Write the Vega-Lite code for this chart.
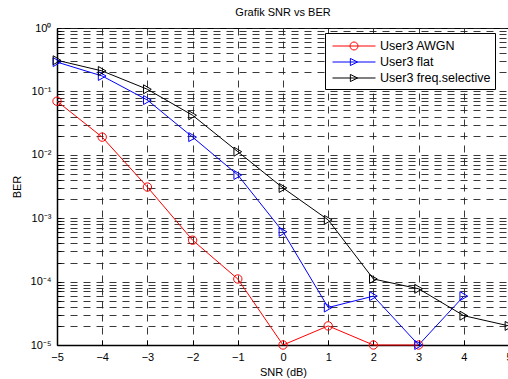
{
  "$schema": "https://vega.github.io/schema/vega-lite/v6.json",
  "width": 452,
  "height": 317,
  "autosize": {"type": "none"},
  "padding": {"left": 57, "top": 28, "right": 0, "bottom": 34},
  "background": "white",
  "title": {"text": "Grafik SNR vs BER", "fontSize": 11, "fontWeight": "normal", "font": "Liberation Sans", "color": "#000", "offset": 4},
  "config": {
    "font": "Liberation Sans",
    "view": {"stroke": "#000", "strokeWidth": 1},
    "axis": {
      "domainColor": "#000",
      "domainWidth": 1.5,
      "labelColor": "#000",
      "titleColor": "#000",
      "labelFont": "Liberation Sans",
      "titleFont": "Liberation Sans",
      "labelFontSize": 11,
      "titleFontSize": 11,
      "titleFontWeight": "normal",
      "labelFlush": false,
      "labelOverlap": false,
      "gridColor": "#222",
      "gridDash": [7, 6],
      "gridWidth": 0.9,
      "gridOpacity": 1,
      "ticks": true,
      "tickColor": "#000",
      "tickWidth": 1
    }
  },
  "data": {"values": [
    {"snr": -5, "ber": 0.07, "series": "User3 AWGN"},
    {"snr": -4, "ber": 0.019, "series": "User3 AWGN"},
    {"snr": -3, "ber": 0.0031, "series": "User3 AWGN"},
    {"snr": -2, "ber": 0.00045, "series": "User3 AWGN"},
    {"snr": -1, "ber": 0.00011, "series": "User3 AWGN"},
    {"snr": 0, "ber": 0.00001, "series": "User3 AWGN"},
    {"snr": 1, "ber": 0.00002, "series": "User3 AWGN"},
    {"snr": 2, "ber": 0.00001, "series": "User3 AWGN"},
    {"snr": 3, "ber": 0.00001, "series": "User3 AWGN"},
    {"snr": -5, "ber": 0.29, "series": "User3 flat"},
    {"snr": -4, "ber": 0.175, "series": "User3 flat"},
    {"snr": -3, "ber": 0.073, "series": "User3 flat"},
    {"snr": -2, "ber": 0.019, "series": "User3 flat"},
    {"snr": -1, "ber": 0.0048, "series": "User3 flat"},
    {"snr": 0, "ber": 0.00061, "series": "User3 flat"},
    {"snr": 1, "ber": 0.000039, "series": "User3 flat"},
    {"snr": 2, "ber": 0.000059, "series": "User3 flat"},
    {"snr": 3, "ber": 0.00001, "series": "User3 flat"},
    {"snr": 4, "ber": 0.000059, "series": "User3 flat"},
    {"snr": -5, "ber": 0.31, "series": "User3 freq.selective"},
    {"snr": -4, "ber": 0.21, "series": "User3 freq.selective"},
    {"snr": -3, "ber": 0.108, "series": "User3 freq.selective"},
    {"snr": -2, "ber": 0.042, "series": "User3 freq.selective"},
    {"snr": -1, "ber": 0.0112, "series": "User3 freq.selective"},
    {"snr": 0, "ber": 0.003, "series": "User3 freq.selective"},
    {"snr": 1, "ber": 0.00094, "series": "User3 freq.selective"},
    {"snr": 2, "ber": 0.00011, "series": "User3 freq.selective"},
    {"snr": 3, "ber": 0.000077, "series": "User3 freq.selective"},
    {"snr": 4, "ber": 0.000029, "series": "User3 freq.selective"},
    {"snr": 5, "ber": 0.00002, "series": "User3 freq.selective"}
  ]},
  "encoding": {
    "x": {
      "field": "snr", "type": "quantitative",
      "scale": {"domain": [-5, 5], "nice": false, "zero": false},
      "axis": {"values": [-5, -4, -3, -2, -1, 0, 1, 2, 3, 4, 5], "title": "SNR (dB)", "tickSize": -5, "labelPadding": 11, "titlePadding": 4, "grid": true}
    },
    "y": {
      "field": "ber", "type": "quantitative",
      "scale": {"type": "log", "domain": [0.00001, 1], "nice": false},
      "axis": {
        "title": "BER",
        "titlePadding": 8,
        "tickSize": -4,
        "labelPadding": 10,
        "grid": true,
        "values": [0.00001, 0.00002, 0.00003, 0.00004, 0.00005, 0.00006, 0.00007, 0.00008, 0.00009,
                   0.0001, 0.0002, 0.0003, 0.0004, 0.0005, 0.0006, 0.0007, 0.0008, 0.0009,
                   0.001, 0.002, 0.003, 0.004, 0.005, 0.006, 0.007, 0.008, 0.009,
                   0.01, 0.02, 0.03, 0.04, 0.05, 0.06, 0.07, 0.08, 0.09,
                   0.1, 0.2, 0.3, 0.4, 0.5, 0.6, 0.7, 0.8, 0.9, 1],
        "labelExpr": "abs(log(datum.value)/LN10 - round(log(datum.value)/LN10)) < 0.001 ? '10' + ['⁰','⁻¹','⁻²','⁻³','⁻⁴','⁻⁵'][-round(log(datum.value)/LN10)] : ''"
      }
    },
    "color": {
      "field": "series", "type": "nominal",
      "scale": {"domain": ["User3 AWGN", "User3 flat", "User3 freq.selective"], "range": ["#ff0000", "#0000ff", "#000000"]},
      "legend": {
        "title": null,
        "orient": "none",
        "legendX": 268,
        "legendY": 5,
        "strokeColor": "#000",
        "fillColor": "#fff",
        "padding": 4,
        "symbolOffset": 3,
        "labelFontSize": 12.5,
        "labelFont": "Liberation Sans",
        "labelColor": "#000",
        "symbolSize": 289,
        "labelOffset": 30,
        "rowPadding": 0,
        "symbolStrokeWidth": 1,
        "symbolFillColor": "transparent",
        "encode": {
          "symbols": {
            "update": {
              "shape": {"signal": "datum.value === 'User3 AWGN' ? 'M-1,0H4.06M1.06,0A0.47,0.47,0,1,0,2,0A0.47,0.47,0,1,0,1.06,0' : 'M-1,0H4.06M1.1,-0.42L1.95,0L1.1,0.42Z'"},
              "fill": {"value": "transparent"},
              "strokeWidth": {"value": 1}
            }
          }
        }
      }
    }
  },
  "layer": [
    {"mark": {"type": "line", "strokeWidth": 1, "clip": false}},
    {
      "transform": [{"filter": "datum.series === 'User3 AWGN'"}],
      "mark": {"type": "point", "filled": false, "strokeWidth": 1, "opacity": 1, "shape": "circle", "size": 70}
    },
    {
      "transform": [{"filter": "datum.series !== 'User3 AWGN'"}],
      "mark": {"type": "point", "filled": false, "strokeWidth": 1, "opacity": 1, "shape": "triangle-right", "size": 80}
    }
  ]
}
